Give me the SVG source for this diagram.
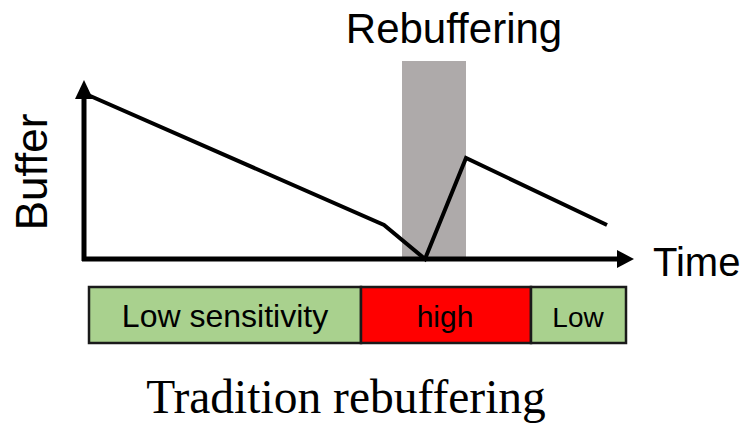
<svg xmlns="http://www.w3.org/2000/svg" width="749" height="430" viewBox="0 0 749 430">
<style>
.sans{font-family:"Liberation Sans",Arial,sans-serif;fill:#000}
.serif{font-family:"Liberation Serif","Times New Roman",serif;fill:#000}
.axis{stroke:#000;stroke-width:5;fill:none}
.curve{stroke:#000;stroke-width:4;fill:none;stroke-linejoin:miter}
.box{stroke:#1a1a1a;stroke-width:2.5}
</style>
<rect width="749" height="430" fill="#fff"/>
<g id="rebuffer-zone">
<rect x="402" y="61" width="64" height="198" fill="#aeaaaa"/>
<text class="sans" x="454" y="43" font-size="42" text-anchor="middle">Rebuffering</text>
</g>
<g id="connectors">
<line class="axis" x1="84" y1="261" x2="84" y2="96"/>
<polygon points="75,99 93,99 84,80" fill="#000"/>
<line class="axis" x1="82" y1="259" x2="620" y2="259"/>
<polygon points="617,250 617,268 634,259" fill="#000"/>
<polyline class="curve" points="88,95 384,225 425,259 466,158 607,225"/>
</g>
<g id="axis-labels">
<text class="sans" x="653" y="276" font-size="40">Time</text>
<text class="sans" x="0" y="0" font-size="44" text-anchor="middle" transform="translate(47,172) rotate(-90)">Buffer</text>
</g>
<g id="low-sensitivity">
<rect class="box" x="89" y="287" width="272" height="56" fill="#a9d18e"/>
<text class="sans" x="225" y="327" font-size="32" text-anchor="middle">Low sensitivity</text>
</g>
<g id="high">
<rect class="box" x="361" y="287" width="170" height="56" fill="#ff0000"/>
<text class="sans" x="445" y="327" font-size="30" text-anchor="middle">high</text>
</g>
<g id="low">
<rect class="box" x="531" y="287" width="95" height="56" fill="#a9d18e"/>
<text class="sans" x="578" y="327" font-size="28" text-anchor="middle">Low</text>
</g>
<g id="caption">
<text class="serif" x="346" y="413" font-size="47.5" text-anchor="middle">Tradition rebuffering</text>
</g>
</svg>
